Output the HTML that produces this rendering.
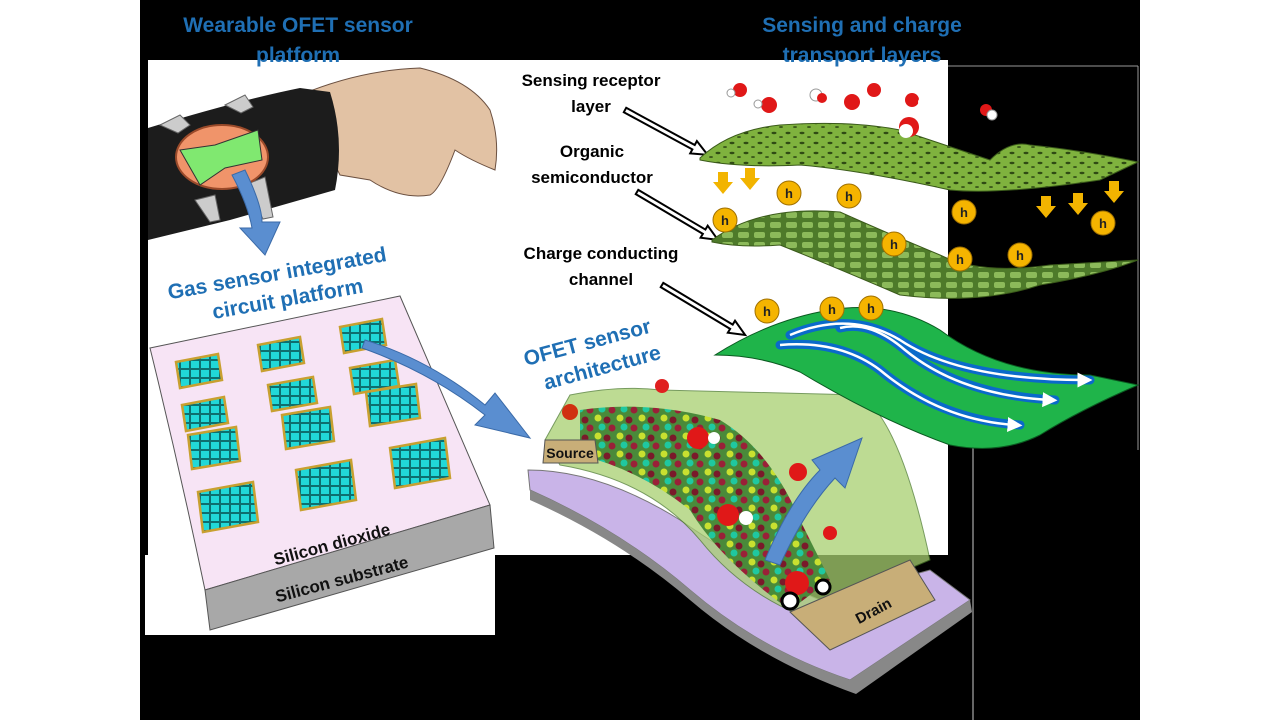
<!DOCTYPE html>
<html><head><meta charset="utf-8"><style>
body{margin:0;background:#fff;width:1280px;height:720px;overflow:hidden}
svg{display:block}
text{font-family:"Liberation Sans",sans-serif;font-weight:bold}
</style></head><body>
<svg width="1280" height="720" viewBox="0 0 1280 720">
<defs>
<marker id="ah" markerWidth="6" markerHeight="6" refX="3" refY="3" orient="auto"><path d="M0,0L6,3L0,6z" fill="#fff"/></marker>
<pattern id="spk" width="14" height="10" patternUnits="userSpaceOnUse"><rect width="14" height="10" fill="#7fb23e"/><ellipse cx="4" cy="3" rx="2.5" ry="1.2" fill="#2f4a14"/><ellipse cx="11" cy="7" rx="2" ry="1" fill="#3d5c1c"/></pattern>
<pattern id="tiles" width="16" height="10" patternUnits="userSpaceOnUse"><rect width="16" height="10" fill="#4e7a2a"/><rect x="2" y="2" width="11" height="6" rx="2" fill="#8cba5a"/></pattern>
<pattern id="chip" width="10" height="9" patternUnits="userSpaceOnUse"><rect width="10" height="9" fill="#0e6f6f"/><rect x="1" y="1" width="8" height="7" fill="#21d8d8"/></pattern>
<pattern id="parts" width="22" height="18" patternUnits="userSpaceOnUse"><rect width="22" height="18" fill="#4a8a3a"/><circle cx="4" cy="4" r="3.5" fill="#c8e030"/><circle cx="13" cy="6" r="3.5" fill="#7a1a2a"/><circle cx="8" cy="13" r="3.5" fill="#1fc8a0"/><circle cx="18" cy="14" r="3.5" fill="#9a2038"/></pattern>
</defs>
<rect x="140" y="0" width="1000" height="720" fill="#000"/>
<rect x="148" y="60" width="800" height="495" fill="#fff"/>
<rect x="145" y="555" width="350" height="80" fill="#fff"/>
<line x1="973" y1="357" x2="973" y2="720" stroke="#888" stroke-width="1.5"/>
<line x1="948" y1="66" x2="1138" y2="66" stroke="#999" stroke-width="1"/>
<line x1="1138" y1="66" x2="1138" y2="450" stroke="#999" stroke-width="1"/>

<text x="298" y="32" font-size="21" fill="#1f6fb4" text-anchor="middle">Wearable OFET sensor</text>
<text x="298" y="62" font-size="21" fill="#1f6fb4" text-anchor="middle">platform</text>
<text x="862" y="32" font-size="21" fill="#1f6fb4" text-anchor="middle">Sensing and charge</text>
<text x="862" y="62" font-size="21" fill="#1f6fb4" text-anchor="middle">transport layers</text>

<!-- hand -->
<path d="M300,95 Q360,70 420,68 Q470,80 490,110 Q500,140 495,170 Q470,160 455,150 Q440,190 430,195 Q400,200 370,180 L340,175 Z" fill="#e2c2a4" stroke="#6b5040" stroke-width="1"/>
<!-- band -->
<path d="M148,128 Q240,100 300,88 L330,92 Q345,140 335,190 L230,220 L148,240 Z" fill="#1c1c1c"/>
<path d="M160,125 l20,-10 l10,10 l-12,8z M225,105 l20,-10 l8,12 l-12,6z M245,185 l20,-8 l8,40 l-10,2z M195,200 l20,-5 l5,25 l-10,2z" fill="#ccc" stroke="#666"/>
<ellipse cx="222" cy="157" rx="46" ry="32" fill="#f0946a" stroke="#9a4a2a" stroke-width="2"/>
<path d="M180,150 L215,145 L258,130 L262,160 L225,168 L200,185 Z" fill="#80e870" stroke="#333" stroke-width="1"/>
<path d="M245,170 Q262,205 262,222 L280,222 L265,255 L240,228 L252,228 Q248,205 232,175 Z" fill="#5a8ed0" stroke="#3a6aa8"/>

<g transform="rotate(-10 280 290)"><text x="280" y="280" font-size="21" fill="#1f6fb4" text-anchor="middle">Gas sensor integrated</text><text x="286" y="307" font-size="21" fill="#1f6fb4" text-anchor="middle">circuit platform</text></g>

<!-- chip sheet -->
<path d="M150,348 L400,296 L490,505 L205,590 Q180,470 150,348 Z" fill="#f7e4f5" stroke="#555"/>
<path d="M205,590 L490,505 L494,548 L210,630 Z" fill="#a8a8a8" stroke="#555"/>
<g fill="url(#chip)" stroke="#c8a030" stroke-width="2.5">
<path d="M176,362 l42,-8 l4,26 l-42,8z"/><path d="M258,345 l42,-8 l4,26 l-42,8z"/><path d="M340,327 l42,-8 l4,26 l-42,8z"/>
<path d="M182,405 l42,-8 l4,26 l-42,8z"/><path d="M268,385 l45,-8 l4,26 l-45,8z"/><path d="M350,368 l45,-8 l4,26 l-45,8z"/>
<path d="M188,435 l48,-8 l4,34 l-48,8z"/><path d="M282,415 l48,-8 l4,34 l-48,8z"/><path d="M366,392 l50,-8 l4,34 l-50,8z"/>
<path d="M198,492 l55,-10 l5,40 l-55,10z"/><path d="M296,470 l55,-10 l5,40 l-55,10z"/><path d="M390,448 l55,-10 l5,40 l-55,10z"/>
</g>
<text x="332" y="550" font-size="17" fill="#111" text-anchor="middle" transform="rotate(-15 332 545)">Silicon dioxide</text>
<text x="342" y="585" font-size="17" fill="#111" text-anchor="middle" transform="rotate(-15 342 580)">Silicon substrate</text>
<path d="M365,340 Q430,360 485,405 L495,393 L530,438 L475,425 L485,415 Q430,372 362,348 Z" fill="#5a8ed0" stroke="#3a6aa8"/>

<g transform="rotate(-15 595 360)"><text x="592" y="348" font-size="21" fill="#1f6fb4" text-anchor="middle">OFET sensor</text><text x="600" y="376" font-size="21" fill="#1f6fb4" text-anchor="middle">architecture</text></g>

<!-- OFET device -->
<path d="M528,470 Q600,470 680,520 Q760,575 820,600 L930,570 L970,600 L850,680 Q760,650 690,590 Q620,530 530,490 Z" fill="#c9b4e8" stroke="#777"/>
<path d="M850,680 L970,600 L972,612 L856,694 Q760,660 690,600 Q620,540 530,500 L530,490 Q620,530 690,590 Q760,650 850,680Z" fill="#888"/>
<path d="M545,440 L570,395 Q620,385 660,390 L860,395 Q900,420 930,560 L800,615 Q740,590 700,540 Q650,480 560,465 Z" fill="#a8d070" opacity="0.75" stroke="#4a7a2a"/>
<path d="M580,410 Q650,400 720,420 Q770,450 800,520 L830,580 L790,610 Q720,560 690,510 Q640,470 580,455 Z" fill="url(#parts)"/>
<path d="M545,440 L595,440 L598,463 L543,463 Z" fill="#c8ae78" stroke="#555"/>
<text x="570" y="458" font-size="14" fill="#111" text-anchor="middle">Source</text>
<path d="M790,612 L910,560 L935,600 L830,650 Z" fill="#c8ae78" stroke="#555"/>
<text x="873" y="616" font-size="15" fill="#111" text-anchor="middle" transform="rotate(-28 873 610)">Drain</text>
<path d="M765,560 Q790,500 820,470 L812,460 L862,438 L845,488 L835,478 Q805,510 780,565 Z" fill="#5a8ed0" stroke="#3a6aa8"/>
<g><circle cx="662" cy="386" r="7" fill="#e02020"/><circle cx="674" cy="383" r="5" fill="#fff"/><circle cx="570" cy="412" r="8" fill="#d03010"/><circle cx="698" cy="438" r="11" fill="#e01818"/><circle cx="714" cy="438" r="6" fill="#fff"/><circle cx="798" cy="472" r="9" fill="#e01818"/><circle cx="728" cy="515" r="11" fill="#e01818"/><circle cx="746" cy="518" r="7" fill="#fff"/><circle cx="797" cy="583" r="12" fill="#e01818"/><circle cx="790" cy="601" r="8" fill="#fff" stroke="#000" stroke-width="3"/><circle cx="823" cy="587" r="7" fill="#fff" stroke="#000" stroke-width="3"/><circle cx="830" cy="533" r="7" fill="#e01818"/></g>

<!-- layer labels -->
<text x="591" y="86" font-size="17" fill="#000" text-anchor="middle">Sensing receptor</text>
<text x="591" y="112" font-size="17" fill="#000" text-anchor="middle">layer</text>
<text x="592" y="157" font-size="17" fill="#000" text-anchor="middle">Organic</text>
<text x="592" y="183" font-size="17" fill="#000" text-anchor="middle">semiconductor</text>
<text x="601" y="259" font-size="17" fill="#000" text-anchor="middle">Charge conducting</text>
<text x="601" y="285" font-size="17" fill="#000" text-anchor="middle">channel</text>
<g fill="#fff" stroke="#000" stroke-width="2" stroke-linejoin="miter">
<path transform="translate(625,110) rotate(28.5)" d="M0,-2.5 L78,-2.5 L78,-7 L94,0 L78,7 L78,2.5 L0,2.5Z"/>
<path transform="translate(637,192) rotate(30.6)" d="M0,-2.5 L78,-2.5 L78,-7 L94,0 L78,7 L78,2.5 L0,2.5Z"/>
<path transform="translate(662,285) rotate(31)" d="M0,-2.5 L81,-2.5 L81,-7 L97,0 L81,7 L81,2.5 L0,2.5Z"/>
</g>

<!-- top layer -->
<path d="M700,158 Q730,130 780,125 Q850,120 900,130 Q960,150 990,160 Q1010,140 1030,145 Q1080,150 1138,162 L1100,180 Q1000,195 950,190 Q860,170 800,165 Q740,168 700,160 Z" fill="url(#spk)" stroke="#3a5a1a"/>
<!-- middle layer -->
<path d="M712,240 Q760,205 840,212 Q880,230 940,255 Q980,275 1050,265 L1138,260 Q1100,275 1040,285 Q980,305 900,295 Q830,265 780,245 Q740,248 712,242 Z" fill="url(#tiles)" stroke="#3a5a1a"/>
<!-- bottom channel -->
<path d="M715,355 Q770,320 830,310 Q890,300 940,330 Q1000,375 1090,375 L1138,385 Q1080,410 1040,435 Q1000,455 950,445 Q880,420 800,372 Q760,355 715,355 Z" fill="#1fb44a" stroke="#0a5a20"/>
<g fill="none" stroke="#0a6aca" stroke-width="9" stroke-linecap="round"><path d="M790,335 Q850,310 900,340 Q960,380 1090,380"/><path d="M840,328 Q870,320 905,350 Q960,395 1055,400"/><path d="M780,345 Q840,340 880,370 Q940,420 1020,425"/></g>
<g fill="none" stroke="#fff" stroke-width="2.5" marker-end="url(#ah)"><path d="M790,335 Q850,310 900,340 Q960,380 1085,380"/><path d="M840,328 Q870,320 905,350 Q960,395 1050,400"/><path d="M780,345 Q840,340 880,370 Q940,420 1015,425"/></g>

<!-- yellow arrows -->
<g fill="#f2b400"><path d="M718,172h10v10h5l-10,12l-10,-12h5z"/><path d="M745,168h10v10h5l-10,12l-10,-12h5z"/><path d="M1041,196h10v10h5l-10,12l-10,-12h5z"/><path d="M1073,193h10v10h5l-10,12l-10,-12h5z"/><path d="M1109,181h10v10h5l-10,12l-10,-12h5z"/></g>
<!-- h circles -->
<g fill="#f5b400" stroke="#a07000">
<circle cx="789" cy="193" r="12"/><circle cx="849" cy="196" r="12"/><circle cx="725" cy="220" r="12"/><circle cx="964" cy="212" r="12"/><circle cx="1103" cy="223" r="12"/><circle cx="894" cy="244" r="12"/><circle cx="960" cy="259" r="12"/><circle cx="1020" cy="255" r="12"/><circle cx="767" cy="311" r="12"/><circle cx="832" cy="309" r="12"/><circle cx="871" cy="308" r="12"/></g>
<g font-size="13" fill="#222" text-anchor="middle"><text x="789" y="198">h</text><text x="849" y="201">h</text><text x="725" y="225">h</text><text x="964" y="217">h</text><text x="1103" y="228">h</text><text x="894" y="249">h</text><text x="960" y="264">h</text><text x="1020" y="260">h</text><text x="767" y="316">h</text><text x="832" y="314">h</text><text x="871" y="313">h</text></g>
<!-- water molecules -->
<g><circle cx="740" cy="90" r="7" fill="#e01818"/><circle cx="731" cy="93" r="4" fill="#fff" stroke="#999"/><circle cx="769" cy="105" r="8" fill="#e01818"/><circle cx="758" cy="104" r="4" fill="#fff" stroke="#999"/><circle cx="816" cy="95" r="6" fill="#fff" stroke="#999"/><circle cx="822" cy="98" r="5" fill="#e01818"/><circle cx="852" cy="102" r="8" fill="#e01818"/><circle cx="874" cy="90" r="7" fill="#e01818"/><circle cx="912" cy="100" r="7" fill="#e01818"/><circle cx="922" cy="102" r="4" fill="#fff"/><circle cx="909" cy="127" r="10" fill="#e01818"/><circle cx="906" cy="131" r="7" fill="#fff"/><circle cx="986" cy="110" r="6" fill="#e01818"/><circle cx="992" cy="115" r="5" fill="#fff" stroke="#999"/></g>
</svg>
</body></html>
